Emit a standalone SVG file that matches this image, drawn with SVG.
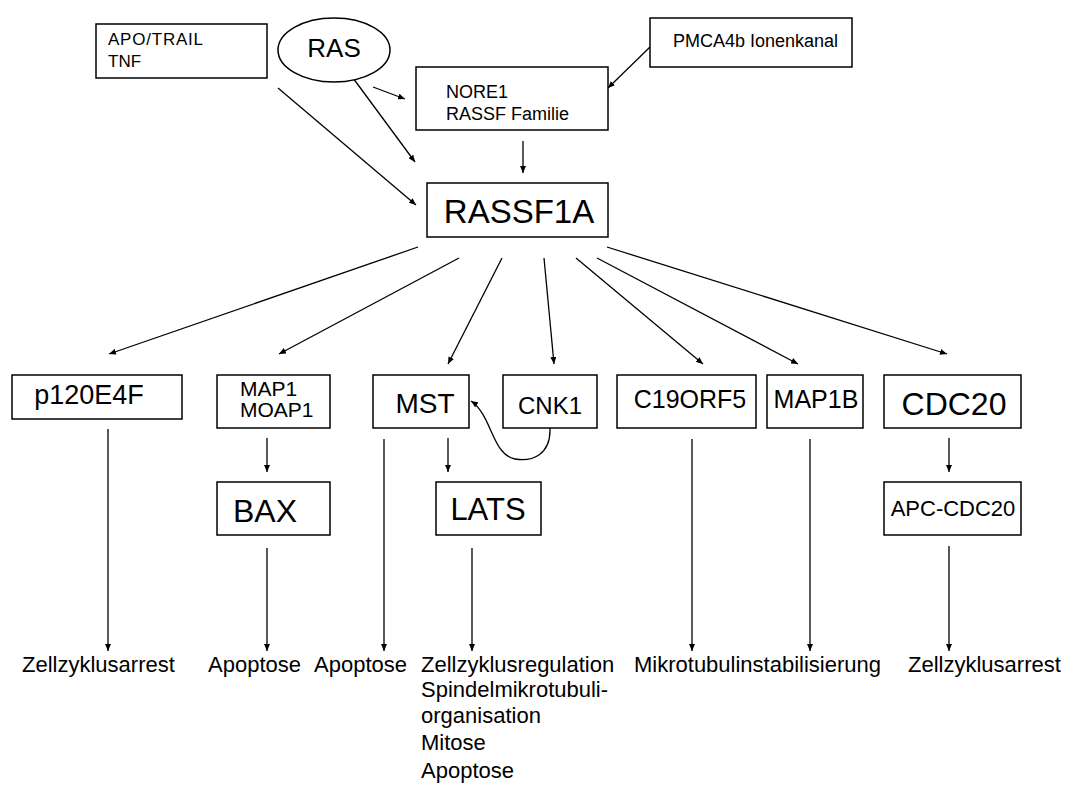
<svg xmlns="http://www.w3.org/2000/svg" width="1068" height="785" viewBox="0 0 1068 785">
<defs>
<marker id="ah" markerUnits="userSpaceOnUse" markerWidth="8" markerHeight="6" refX="7" refY="3" orient="auto">
<path d="M0,0 L7,3 L0,6 z" fill="#000"/>
</marker>
<style>
.b{fill:#fff;stroke:#000;stroke-width:1.5}
.c{fill:none;stroke:#000;stroke-width:1.3;marker-end:url(#ah)}
text{font-family:"Liberation Sans",Arial,sans-serif;fill:#000}
.lab{font-size:22px}
</style>
</defs>
<rect width="1068" height="785" fill="#fff"/>
<g id="connectors">
<line class="c" x1="278" y1="88" x2="416" y2="205"/>
<line class="c" x1="373" y1="87" x2="405" y2="99"/>
<line class="c" x1="353" y1="78" x2="415" y2="162"/>
<line class="c" x1="650" y1="47" x2="608" y2="88"/>
<line class="c" x1="523" y1="141" x2="523" y2="173"/>
<line class="c" x1="418" y1="247" x2="109" y2="354"/>
<line class="c" x1="459" y1="258" x2="279" y2="354"/>
<line class="c" x1="502" y1="258" x2="448" y2="364"/>
<line class="c" x1="544" y1="258" x2="554" y2="364"/>
<line class="c" x1="576" y1="258" x2="703" y2="364"/>
<line class="c" x1="597" y1="258" x2="798" y2="364"/>
<line class="c" x1="607" y1="247" x2="947" y2="354"/>
<line class="c" x1="267" y1="438" x2="267" y2="472"/>
<line class="c" x1="448" y1="438" x2="448" y2="472"/>
<line class="c" x1="949" y1="438" x2="949" y2="472"/>
<path class="c" d="M550,428 C551,455 532,462 515,459 C492,455 492,415 471,401"/>
<line class="c" x1="108" y1="429" x2="108" y2="651"/>
<line class="c" x1="267" y1="548" x2="267" y2="651"/>
<line class="c" x1="384" y1="439" x2="384" y2="651"/>
<line class="c" x1="472" y1="548" x2="472" y2="651"/>
<line class="c" x1="692" y1="439" x2="692" y2="651"/>
<line class="c" x1="810" y1="439" x2="810" y2="651"/>
<line class="c" x1="949" y1="546" x2="949" y2="651"/>
</g>
<g id="apo"><rect class="b" x="96" y="24" width="171" height="54"/><text x="108" y="45" font-size="17" textLength="95" lengthAdjust="spacing">APO/TRAIL</text><text x="108" y="67" font-size="17">TNF</text></g>
<g id="ras"><ellipse class="b" cx="334" cy="50" rx="56" ry="32"/><text x="334" y="57" font-size="26" text-anchor="middle">RAS</text></g>
<g id="nore1"><rect class="b" x="416" y="67" width="192" height="63"/><text x="446" y="98" font-size="18">NORE1</text><text x="446" y="120" font-size="18">RASSF Familie</text></g>
<g id="pmca"><rect class="b" x="650" y="18" width="202" height="49"/><text x="673" y="47" font-size="18">PMCA4b Ionenkanal</text></g>
<g id="rassf1a"><rect class="b" x="427" y="183" width="181" height="54"/><text x="519" y="223" font-size="33" text-anchor="middle">RASSF1A</text></g>
<g id="p120"><rect class="b" x="12" y="375" width="170" height="44"/><text x="89" y="404" font-size="27" text-anchor="middle">p120E4F</text></g>
<g id="map1"><rect class="b" x="217" y="375" width="113" height="53"/><text x="240" y="396" font-size="21">MAP1</text><text x="240" y="417" font-size="21">MOAP1</text></g>
<g id="bax"><rect class="b" x="217" y="482" width="113" height="53"/><text x="265" y="522" font-size="32" text-anchor="middle">BAX</text></g>
<g id="mst"><rect class="b" x="373" y="375" width="96" height="53"/><text x="425" y="413" font-size="28" text-anchor="middle">MST</text></g>
<g id="cnk1"><rect class="b" x="503" y="375" width="94" height="53"/><text x="550" y="414" font-size="24" text-anchor="middle">CNK1</text></g>
<g id="lats"><rect class="b" x="436" y="482" width="105" height="53"/><text x="488" y="520" font-size="31" text-anchor="middle">LATS</text></g>
<g id="c19orf5"><rect class="b" x="617" y="375" width="139" height="53"/><text x="690" y="408" font-size="25" text-anchor="middle">C19ORF5</text></g>
<g id="map1b"><rect class="b" x="767" y="375" width="96" height="53"/><text x="816" y="408" font-size="25" text-anchor="middle">MAP1B</text></g>
<g id="cdc20"><rect class="b" x="884" y="375" width="137" height="53"/><text x="954" y="415" font-size="32" text-anchor="middle">CDC20</text></g>
<g id="apc"><rect class="b" x="884" y="482" width="137" height="53"/><text x="953" y="516" font-size="22" text-anchor="middle">APC-CDC20</text></g>
<g id="labels">
<text class="lab" x="22" y="672">Zellzyklusarrest</text>
<text class="lab" x="208" y="672">Apoptose</text>
<text class="lab" x="314" y="672">Apoptose</text>
<text class="lab" x="421" y="672">Zellzyklusregulation</text>
<text class="lab" x="421" y="697">Spindelmikrotubuli-</text>
<text class="lab" x="421" y="723">organisation</text>
<text class="lab" x="421" y="750">Mitose</text>
<text class="lab" x="421" y="778">Apoptose</text>
<text class="lab" x="634" y="672">Mikrotubulinstabilisierung</text>
<text class="lab" x="908" y="672">Zellzyklusarrest</text>
</g>
</svg>
